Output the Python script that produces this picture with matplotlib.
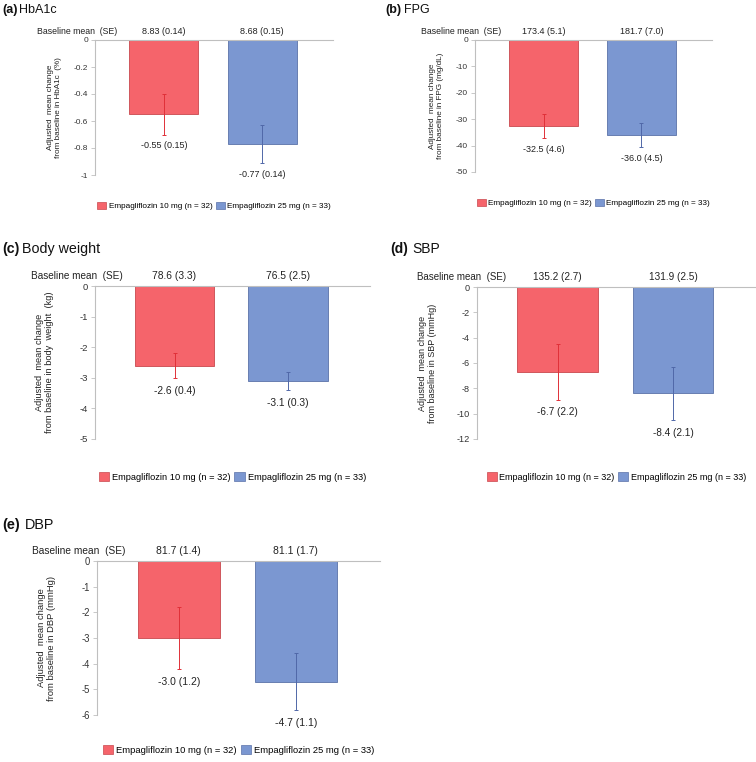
import matplotlib
matplotlib.use('Agg')
import matplotlib.pyplot as plt
from matplotlib.ticker import FuncFormatter
from matplotlib.patches import Patch

plt.rcParams['font.family'] = ['Liberation Sans', 'DejaVu Sans']
plt.rcParams['axes.unicode_minus'] = False

groups = ['Empagliflozin 10 mg (n = 32)', 'Empagliflozin 25 mg (n = 33)']

titles = ['(a)', '(b)', '(c)', '(d)', '(e)']
names = ['HbA1c', 'FPG', 'Body weight', 'SBP', 'DBP']
ylabels = ['Adjusted  mean change\nfrom baseline in HbA1c  (%)',
           'Adjusted  mean change\nfrom baseline in FPG (mg/dL)',
           'Adjusted  mean change\nfrom baseline in body  weight  (kg)',
           'Adjusted  mean change\nfrom baseline in SBP (mmHg)',
           'Adjusted  mean change\nfrom baseline in DBP (mmHg)']

baseline = [['8.83 (0.14)', '8.68 (0.15)'],
            ['173.4 (5.1)', '181.7 (7.0)'],
            ['78.6 (3.3)', '76.5 (2.5)'],
            ['135.2 (2.7)', '131.9 (2.5)'],
            ['81.7 (1.4)', '81.1 (1.7)']]
change = [[-0.55, -0.77], [-32.5, -36.0], [-2.6, -3.1], [-6.7, -8.4], [-3.0, -4.7]]
se = [[0.15, 0.14], [4.6, 4.5], [0.4, 0.3], [2.2, 2.1], [1.2, 1.1]]
ymin = [-1, -50, -5, -12, -6]
ystep = [0.2, 10, 1, 2, 1]

bar_colors = ['#F5646B', '#7B97D1']
edge_colors = ['#C9484E', '#5B72A8']
err_colors = ['#E03038', '#5068A8']

W, H = 756, 762
fig = plt.figure(figsize=(W / 100, H / 100), dpi=100)

# axes boxes in pixels: left, top, right, bottom
boxes = [(95, 40, 333, 175), (475, 40, 712, 172), (95, 286, 370, 439),
         (477, 287, 756, 439), (97, 561, 380, 715)]
title_pos = [(2, 10), (385, 10), (2, 249), (390, 249), (2, 525)]
title_gap = [2, 3, 3, 4, 5]
ylab_off = [-33, -31, -41, -40, -41]
base_off = [22, 26, 28, 29, 28]
leg_off = [31, 31, 38, 38, 35]
scale = [0.9, 0.9, 1.03, 1.0, 1.04]

for k in range(5):
    l, t, r, b = boxes[k]
    s = scale[k]
    ax = fig.add_axes([l / W, 1 - b / H, (r - l) / W, (b - t) / H])
    dec = 2 if k == 0 else 1
    for i in range(2):
        ax.bar(i, change[k][i], width=0.7, color=bar_colors[i],
               edgecolor=edge_colors[i], linewidth=0.6, label=groups[i])
        ax.errorbar(i, change[k][i], yerr=se[k][i], color=err_colors[i],
                    elinewidth=0.7, capsize=1.2, capthick=0.7)
        ax.annotate(f'{change[k][i]:.{dec}f} ({se[k][i]:.{dec}f})',
                    (i, change[k][i] - se[k][i]), xytext=(0, -5.5 * s),
                    textcoords='offset points', ha='center', va='top',
                    fontsize=7.2 * s, color='#222222', annotation_clip=False)
        ax.annotate(baseline[k][i], (i, 0), xytext=(0, 3.5 * s),
                    textcoords='offset points', ha='center', va='bottom',
                    fontsize=7.2 * s, color='#222222', annotation_clip=False)
    ax.annotate('Baseline mean  (SE)', (0, 0), xycoords=('axes fraction', 'data'),
                xytext=(base_off[k] * 0.72, 3.5 * s),
                textcoords='offset points', ha='right', va='bottom',
                fontsize=7 * s, color='#222222', annotation_clip=False)
    ax.set_xlim(-0.7, 1.72)
    ax.set_ylim(ymin[k], 0)
    n = int(round(-ymin[k] / ystep[k]))
    ax.set_yticks([-j * ystep[k] for j in range(n + 1)])
    ax.yaxis.set_major_formatter(FuncFormatter(lambda v, p: '%g' % round(v, 4)))
    ax.set_xticks([])
    for sp in ['right', 'bottom']:
        ax.spines[sp].set_visible(False)
    for sp in ['left', 'top']:
        ax.spines[sp].set_color('#BFBFBF')
        ax.spines[sp].set_linewidth(0.8)
    ax.tick_params(axis='y', length=3, width=0.6, color='#BFBFBF',
                   labelsize=6.6 * s, labelcolor='#333333', pad=2)
    ax.set_ylabel(ylabels[k], fontsize=6.5 * s, color='#222222', linespacing=1.15)
    ax.yaxis.set_label_coords(ylab_off[k] / (r - l), 0.5)
    handles = [Patch(facecolor=bar_colors[i], edgecolor=edge_colors[i], linewidth=0.5)
               for i in range(2)]
    ax.legend(handles, groups, loc='center', ncol=2, frameon=False,
              bbox_to_anchor=(0.5, -leg_off[k] / (b - t)), fontsize=6.5 * s,
              handlelength=1.1, handleheight=1.1, handletextpad=0.3,
              columnspacing=0.4, borderaxespad=0)
    tx, ty = title_pos[k]
    lab = fig.text(tx / W, 1 - ty / H, titles[k], fontsize=10 * s, fontweight='bold',
                   va='center', ha='left', color='#111111')
    fig.add_artist(plt.Annotation(names[k], (1, 0.5), xycoords=lab,
                                  xytext=(title_gap[k] * 0.72, 0),
                                  textcoords='offset points', va='center', ha='left',
                                  fontsize=10 * s, color='#111111'))

fig.savefig('out.png', dpi=100, facecolor='white')
